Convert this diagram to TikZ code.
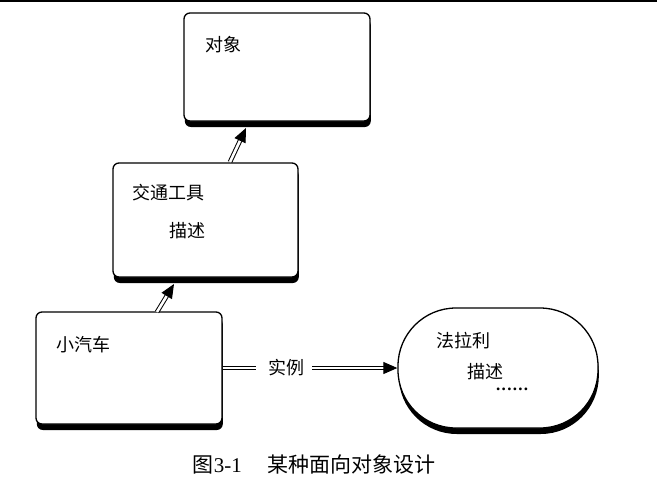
\documentclass[tikz,border=0pt]{standalone}
\usepackage{fontspec}
\setmainfont{Liberation Serif}
\newfontfamily\cjk{Noto Sans CJK SC}
\usetikzlibrary{arrows.meta,shadows}
\tikzset{
  box/.style={draw=black, line width=1.3pt, fill=white, rounded corners=6pt,
    inner sep=0pt, drop shadow={shadow xshift=0.8pt, shadow yshift=-6pt, fill=black, opacity=1}},
  oval/.style={draw=black, line width=1.3pt, fill=white, rounded corners=58pt,
    inner sep=0pt, drop shadow={shadow xshift=0.8pt, shadow yshift=-6pt, fill=black, opacity=1}},
  lbl/.style={font=\cjk\fontsize{18}{20}\selectfont, inner sep=0pt, anchor=west},
  dbl/.style={double=white, double distance=2.6pt, line width=1pt,
    -{Triangle[length=14pt,width=12pt]}},
  dbl2/.style={double=white, double distance=2.6pt, line width=1pt},
}
\begin{document}
\begin{tikzpicture}[x=1pt,y=-1pt]
\useasboundingbox (0,0) rectangle (657,485);
\fill[white] (0,0) rectangle (657,485);
\draw[line width=1.5pt] (0,1) -- (657,1);

\node[box, minimum width=186pt, minimum height=108pt] (obj) at (277,67) {};
\node[box, minimum width=185pt, minimum height=114pt] (veh) at (205.5,220) {};
\node[box, minimum width=186pt, minimum height=112pt] (car) at (129,368) {};
\node[oval, minimum width=200pt, minimum height=120pt] (fer) at (498,368) {};

\node[lbl] (t1) at (205,45) {对象};
\node[lbl] (t2) at (132,193) {交通工具};
\node[lbl] (t3) at (169,231) {描述};
\node[lbl] (t4) at (56,345) {小汽车};
\node[lbl] (t5) at (436,341) {法拉利};
\node[lbl] (t6) at (467,372) {描述};
\node[inner sep=0pt, anchor=west, font=\fontsize{17}{17}\selectfont\bfseries] (t7) at (496,389) {.\kern1.3pt.\kern1.3pt.\kern1.3pt.\kern1.3pt.\kern1.3pt.};

\coordinate (a1s) at (157,312);
\coordinate (a1e) at (174,284);
\coordinate (a2s) at (230,162);
\coordinate (a2e) at (246,128);
\draw[dbl] (a1s) -- (a1e);
\draw[dbl] (a2s) -- (a2e);

\node[lbl, anchor=center] (inst) at (286,368) {实例};
\draw[dbl2] (car.east) -- ([xshift=-12pt]inst.west);
\draw[dbl] ([xshift=8pt]inst.east) -- (fer.west);

\node[inner sep=0pt] (cap) at (314,465) {\fontsize{21}{23}\selectfont{\cjk 图}3-1\hspace{1.2em}{\cjk 某种面向对象设计}};
\end{tikzpicture}
\end{document}
